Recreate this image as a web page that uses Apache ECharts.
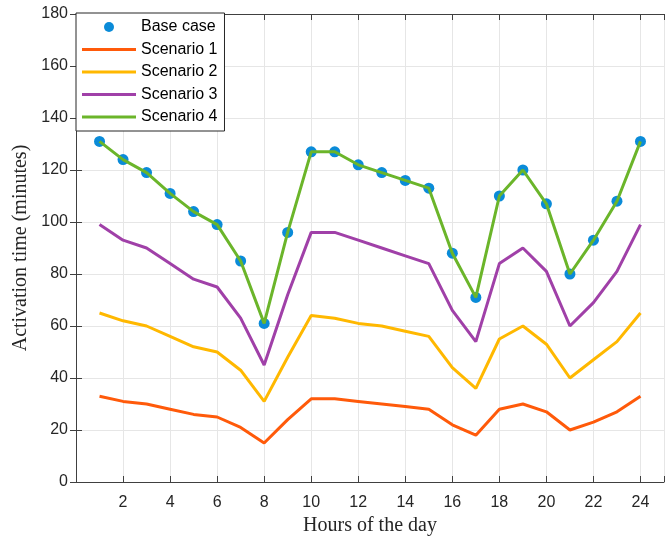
<!DOCTYPE html>
<html>
<head>
<meta charset="utf-8">
<script src="https://cdn.jsdelivr.net/npm/echarts@6/dist/echarts.min.js"></script>
<style>
  html, body { margin: 0; padding: 0; background: #fff; }
  #chart { width: 667px; height: 543px; }
</style>
</head>
<body>
<div id="chart"></div>
<script>
// Hour of the day for each sample
const hours = [1,2,3,4,5,6,7,8,9,10,11,12,13,14,15,16,17,18,19,20,21,22,23,24];

// Activation time in minutes
const baseCase  = [131,124,119,111,104,99,85,61,96,127,127,122,119,116,113,88,71,110,120,107,80,93,108,131];
const scenario1 = [33,31,30,28,26,25,21,15,24,32,32,31,30,29,28,22,18,28,30,27,20,23,27,33];
const scenario2 = [65,62,60,56,52,50,43,31,48,64,63,61,60,58,56,44,36,55,60,53,40,47,54,65];
const scenario3 = [99,93,90,84,78,75,63,45,72,96,96,93,90,87,84,66,54,84,90,81,60,69,81,99];
const scenario4 = [131,124,119,111,104,99,85,61,96,127,127,122,119,116,113,88,71,110,120,107,80,93,108,131];

const seriesNames = ['Base case', 'Scenario 1', 'Scenario 2', 'Scenario 3', 'Scenario 4'];
const lineColors = ['#FF5A0A', '#FFB800', '#A040A8', '#6BB52A'];
const dotColor = '#0A8BD8';

const axisColor = '#404040';
const gridColor = '#e6e6e6';
const sansFont = '"Liberation Sans", Arial, sans-serif';
const serifFont = '"Liberation Serif", "Times New Roman", serif';

// Flat bar used as the legend swatch for the line series
const lineIcon = 'path://M0,0 H54 V3 H0 Z';

const pairs = (ys) => hours.map((h, i) => [h, ys[i]]);

const chart = echarts.init(document.getElementById('chart'), null, { renderer: 'canvas' });

const xBase = {
  type: 'value', min: 0, max: 25, interval: 2,
  axisLine: { show: true, onZero: false, lineStyle: { color: axisColor, width: 1 } },
  axisTick: { show: true, inside: true, length: 6, lineStyle: { color: axisColor } },
  splitLine: { show: false }
};
const yBase = {
  type: 'value', min: 0, max: 180, interval: 20,
  axisLine: { show: true, lineStyle: { color: axisColor, width: 1 } },
  axisTick: { show: true, inside: true, length: 6, lineStyle: { color: axisColor } },
  splitLine: { show: false }
};

const lineSeries = [scenario1, scenario2, scenario3, scenario4].map((ys, i) => ({
  name: seriesNames[i + 1],
  type: 'line',
  data: pairs(ys),
  symbol: 'none',
  lineStyle: { color: lineColors[i], width: 3 },
  itemStyle: { color: lineColors[i] },
  emphasis: { disabled: true },
  animation: false
}));

chart.setOption({
  animation: false,
  grid: { left: 76, top: 14, width: 593.75, height: 468 },
  xAxis: [
    Object.assign({}, xBase, {
      position: 'bottom',
      splitLine: { show: true, lineStyle: { color: gridColor, width: 1 } },
      axisLabel: {
        show: true, color: '#262626', fontFamily: sansFont, fontSize: 16, margin: 13,
        formatter: v => (v > 0 && v <= 24 ? String(v) : '')
      },
      name: 'Hours of the day',
      nameLocation: 'middle',
      nameGap: 34,
      nameTextStyle: { fontFamily: serifFont, fontSize: 20, color: '#262626' }
    }),
    Object.assign({}, xBase, { position: 'top', axisLabel: { show: false } })
  ],
  yAxis: [
    Object.assign({}, yBase, {
      position: 'left',
      splitLine: { show: true, lineStyle: { color: gridColor, width: 1 } },
      axisLabel: { show: true, color: '#262626', fontFamily: sansFont, fontSize: 16, margin: 8 },
      name: 'Activation time (minutes)',
      nameLocation: 'middle',
      nameGap: 44,
      nameTextStyle: { fontFamily: serifFont, fontSize: 20, color: '#262626' }
    }),
    Object.assign({}, yBase, { position: 'right', axisLabel: { show: false } })
  ],
  legend: {
    orient: 'vertical',
    left: 76, top: 13,
    backgroundColor: '#ffffff',
    borderColor: '#262626',
    borderWidth: 1,
    borderRadius: 0,
    padding: [6, 7, 6, 6],
    itemWidth: 54,
    itemHeight: 10,
    itemGap: 6.5,
    textStyle: { fontFamily: sansFont, fontSize: 16, color: '#000', lineHeight: 16 },
    data: [
      { name: 'Base case', icon: 'circle' },
      { name: 'Scenario 1', icon: lineIcon },
      { name: 'Scenario 2', icon: lineIcon },
      { name: 'Scenario 3', icon: lineIcon },
      { name: 'Scenario 4', icon: lineIcon }
    ],
    selectedMode: false
  },
  series: [
    {
      name: seriesNames[0],
      type: 'scatter',
      data: pairs(baseCase),
      symbol: 'circle',
      symbolSize: 11,
      itemStyle: { color: dotColor, opacity: 1 },
      emphasis: { disabled: true },
      animation: false
    }
  ].concat(lineSeries)
});
</script>
</body>
</html>
